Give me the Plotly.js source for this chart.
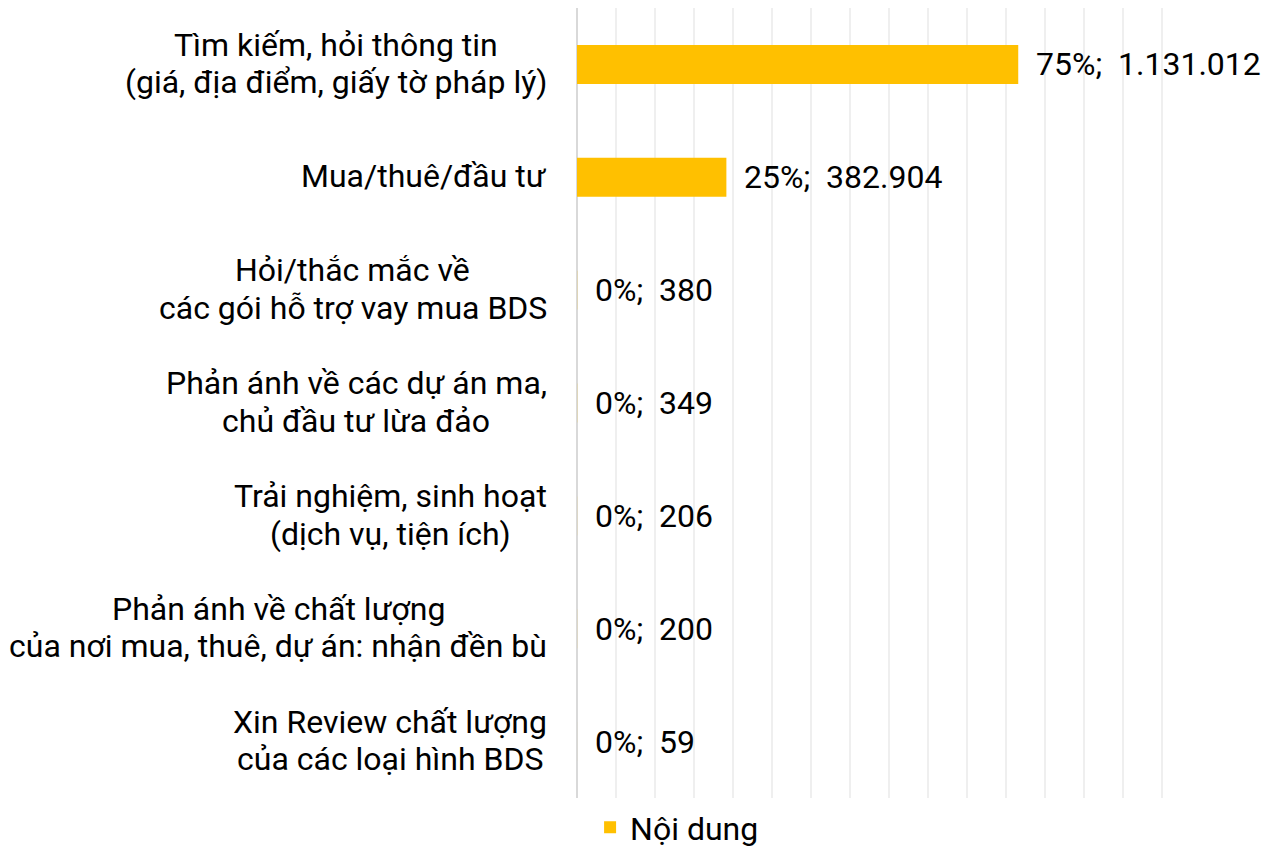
<!DOCTYPE html>
<html>
<head>
<meta charset="utf-8">
<script src="https://cdn.plot.ly/plotly-3.0.1.min.js"></script>
<style>
  html, body { margin: 0; padding: 0; background: #ffffff; }
  #chart { width: 1269px; height: 851px; }
</style>
</head>
<body>
<div id="chart"></div>
<script>
// ---- data ----
const categories = [
  "Tìm kiếm, hỏi thông tin<br>(giá, địa điểm, giấy tờ pháp lý)",
  "Mua/thuê/đầu tư",
  "Hỏi/thắc mắc về<br>các gói hỗ trợ vay mua BDS",
  "Phản ánh về các dự án ma,<br>chủ đầu tư lừa đảo",
  "Trải nghiệm, sinh hoạt<br>(dịch vụ, tiện ích)",
  "Phản ánh về chất lượng<br>của nơi mua, thuê, dự án: nhận đền bù",
  "Xin Review chất lượng<br>của các loại hình BDS"
];
const counts = [1131012, 382904, 380, 349, 206, 200, 59];
const percents = ["75%", "25%", "0%", "0%", "0%", "0%", "0%"];
const seriesName = "Nội dung";

// ---- helpers ----
function fmtDots(n) {
  return String(n).replace(/\B(?=(\d{3})+(?!\d))/g, ".");
}

const FONT = "Roboto, 'Noto Sans', Arial, sans-serif";
const FS = 32;
const LINE_GAP = 37.4;
const barColor = "#FFC000";

const cv = document.createElement("canvas");
const ctx = cv.getContext("2d");
ctx.font = FS + "px Roboto";
function textW(s) { return ctx.measureText(s).width; }

const trace = {
  type: "bar",
  orientation: "h",
  x: counts,
  y: categories,
  name: seriesName,
  marker: { color: barColor },
  hoverinfo: "none",
  showlegend: true
};

const annotations = [];
categories.forEach((c, i) => {
  const lines = c.split("<br>");
  const widths = lines.map(textW);
  const maxW = Math.max.apply(null, widths);
  const n = lines.length;
  lines.forEach((ln, k) => {
    annotations.push({
      xref: "paper", yref: "y",
      x: 0, y: c,
      xanchor: "right", yanchor: "middle",
      xshift: -28 - (maxW - widths[k]) / 2,
      yshift: ((n - 1) / 2 - k) * LINE_GAP + 1,
      text: ln,
      showarrow: false,
      font: { family: FONT, size: FS, color: "#000000" }
    });
  });
  annotations.push({
    xref: "x", yref: "y",
    x: counts[i], y: c,
    xanchor: "left", yanchor: "middle",
    xshift: 16,
    align: "left",
    text: percents[i] + "; \u00a0" + fmtDots(counts[i]),
    showarrow: false,
    font: { family: FONT, size: FS, color: "#000000" }
  });
});

const layout = {
  width: 1269,
  height: 851,
  margin: { l: 577, r: 99, t: 8, b: 53, autoexpand: false },
  paper_bgcolor: "#ffffff",
  plot_bgcolor: "#ffffff",
  font: { family: FONT, size: FS, color: "#000000" },
  bargap: 0.655,
  xaxis: {
    range: [0, 1520000],
    dtick: 100000,
    tick0: 0,
    showticklabels: false,
    ticks: "",
    showgrid: true,
    gridcolor: "#efefef",
    gridwidth: 2,
    zeroline: true,
    zerolinecolor: "#d9d9d9",
    zerolinewidth: 2,
    showline: false,
    fixedrange: true
  },
  yaxis: {
    type: "category",
    autorange: "reversed",
    showticklabels: false,
    ticks: "",
    showgrid: false,
    zeroline: false,
    showline: false,
    fixedrange: true
  },
  showlegend: true,
  legend: {
    orientation: "h",
    xref: "container", yref: "container",
    x: 0.465, xanchor: "left",
    y: 0.06, yanchor: "top",
    font: { family: FONT, size: FS, color: "#000000" },
    bgcolor: "rgba(0,0,0,0)"
  },
  annotations: annotations
};

Plotly.newPlot("chart", [trace], layout, { displayModeBar: false, staticPlot: true });
</script>
</body>
</html>
